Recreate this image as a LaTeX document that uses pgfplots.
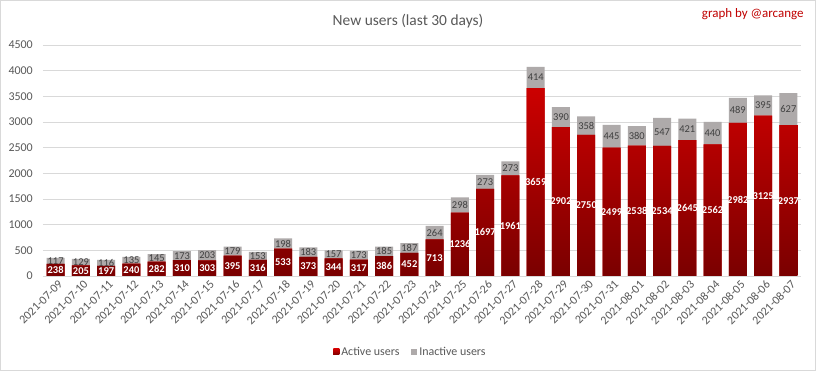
\documentclass[border=0pt]{standalone}
\usepackage{pgfplots}
\pgfplotsset{compat=1.18}
\usepackage{pgfplotstable}
\usepackage{fontspec}
\setmainfont{Carlito}
\definecolor{txt}{HTML}{595959}
\definecolor{gridc}{HTML}{D9D9D9}
\definecolor{inact}{HTML}{AEAAAA}
\definecolor{redtop}{HTML}{CC0000}
\definecolor{redbot}{HTML}{7A0000}
\definecolor{lbl}{HTML}{404040}
\definecolor{credit}{HTML}{C00000}

\pgfplotstableread{
x date a i
0 2021-07-09 238 117
1 2021-07-10 205 129
2 2021-07-11 197 116
3 2021-07-12 240 135
4 2021-07-13 282 145
5 2021-07-14 310 173
6 2021-07-15 303 203
7 2021-07-16 395 179
8 2021-07-17 316 153
9 2021-07-18 533 198
10 2021-07-19 373 183
11 2021-07-20 344 157
12 2021-07-21 317 173
13 2021-07-22 386 185
14 2021-07-23 452 187
15 2021-07-24 713 264
16 2021-07-25 1236 298
17 2021-07-26 1697 273
18 2021-07-27 1961 273
19 2021-07-28 3659 414
20 2021-07-29 2902 390
21 2021-07-30 2750 358
22 2021-07-31 2499 445
23 2021-08-01 2538 380
24 2021-08-02 2534 547
25 2021-08-03 2645 421
26 2021-08-04 2562 440
27 2021-08-05 2982 489
28 2021-08-06 3125 395
29 2021-08-07 2937 627
}\data

\begin{document}
\begin{tikzpicture}
\useasboundingbox (0,0) rectangle (816bp,371bp);
\fill[white] (0,0) rectangle (816bp,371bp);
\draw[gridc, line width=1bp] (0.5bp,0.5bp) rectangle (815.5bp,370.5bp);
\node[font=\fontsize{15.5}{17}\selectfont, text=txt] at (408bp,350bp) {New users (last 30 days)};
\node[font=\fontsize{13}{15}\selectfont, text=credit, anchor=east] at (807bp,357bp) {graph by @arcange};

\begin{axis}[
  at={(43bp,95bp)}, anchor=south west, scale only axis,
  width=758bp, height=231bp,
  ybar stacked, bar width=18bp,
  xmin=-0.5, xmax=29.5, ymin=0, ymax=4500,
  ytick={0,500,...,4500},
  xtick=data, xticklabels from table={\data}{date},
  /pgf/number format/assume math mode=true,
  /pgf/number format/1000 sep={},
  x tick label style={rotate=45, anchor=north east, font=\fontsize{12}{12}\selectfont, text=txt, inner sep=1bp, yshift=-3bp},
  y tick label style={font=\fontsize{12}{12}\selectfont, text=txt, inner sep=0pt, xshift=-10bp},
  ymajorgrids, grid style={gridc, line width=1bp},
  axis line style={draw=none},
  major tick length=0pt,
  legend style={at={(0.4848,-0.329)}, anchor=center, draw=none, fill=none, legend columns=2,
    font=\fontsize{12}{12}\selectfont, text=txt,
    /tikz/every even column/.append style={column sep=10bp}},
  legend image code/.code={\fill[#1] (0bp,-3bp) rectangle (6bp,3bp);},
]
\addplot[draw=none, top color=redtop, bottom color=redbot, fill=redtop!80!redbot] table[x=x,y=a]{\data};
\addplot[draw=none, fill=inact] table[x=x,y=i]{\data};
\legend{Active users, Inactive users}
\end{axis}

\begin{axis}[
  at={(43bp,95bp)}, anchor=south west, scale only axis,
  width=758bp, height=231bp, hide axis, clip=false,
  xmin=-0.5, xmax=29.5, ymin=0, ymax=4500,
]
\addplot[draw=none, mark=none, nodes near coords={\pgfplotspointmeta}, point meta=explicit symbolic,
  nodes near coords style={anchor=center, font=\fontsize{10.5}{11}\selectfont\bfseries, text=white, inner sep=0pt}]
  table[x=x, y expr=\thisrow{a}/2, meta=a]{\data};
\addplot[draw=none, mark=none, nodes near coords={\pgfplotspointmeta}, point meta=explicit symbolic,
  nodes near coords style={anchor=center, font=\fontsize{10.5}{11}\selectfont, text=lbl, inner sep=0pt}]
  table[x=x, y expr=\thisrow{a}+\thisrow{i}/2, meta=i]{\data};
\end{axis}
\end{tikzpicture}
\end{document}
